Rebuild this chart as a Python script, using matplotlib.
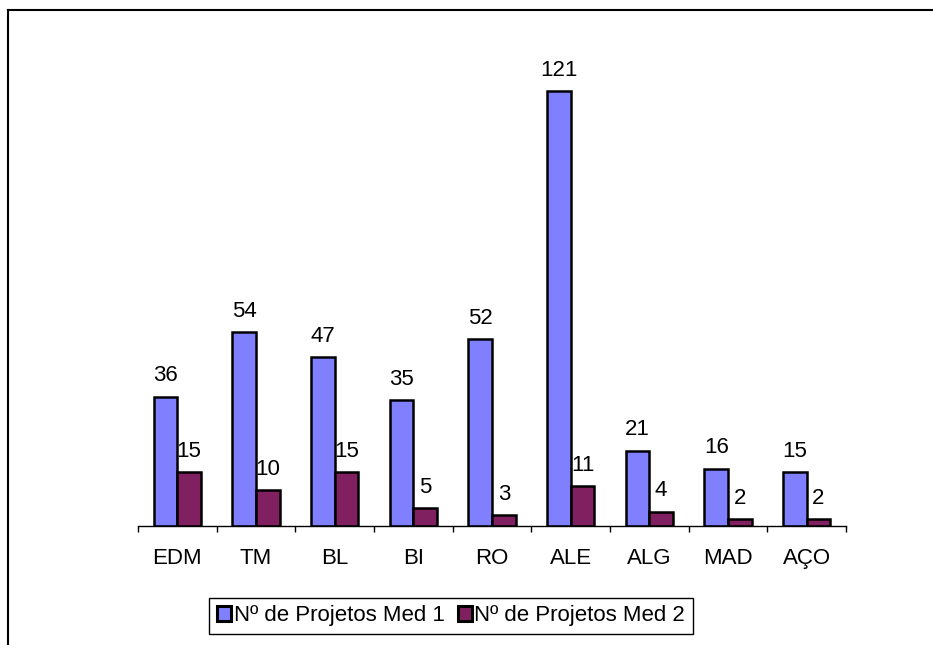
"""
Bar chart of project counts per sector, Med 1 vs Med 2.
"""

import matplotlib.pyplot as plt
import numpy as np
from matplotlib.lines import Line2D

plt.rcParams["font.family"] = ["Liberation Sans", "DejaVu Sans"]

CATEGORIES = ["EDM", "TM", "BL", "BI", "RO", "ALE", "ALG", "MAD", "AÇO"]
MED_1 = [36, 54, 47, 35, 52, 121, 21, 16, 15]
MED_2 = [15, 10, 15, 5, 3, 11, 4, 2, 2]
SERIES_LABELS = ["Nº de Projetos Med 1", "Nº de Projetos Med 2"]

BLUE = "#8080FF"
PLUM = "#802060"
FONT_SIZE = 16

fig = plt.figure(figsize=(9.33, 6.45), dpi=100)
ax = fig.add_axes([138 / 933, 1 - 526 / 645, (846 - 138) / 933, (526 - 23) / 645])

x = np.arange(len(CATEGORIES))
width = 0.3

bars_1 = ax.bar(x - width / 2, MED_1, width, color=BLUE, edgecolor="black",
                linewidth=1.8, label=SERIES_LABELS[0])
bars_2 = ax.bar(x + width / 2, MED_2, width, color=PLUM, edgecolor="black",
                linewidth=1.8, label=SERIES_LABELS[1])

for bars, values in ((bars_1, MED_1), (bars_2, MED_2)):
    for bar, value in zip(bars, values):
        ax.annotate(
            str(value),
            (bar.get_x() + bar.get_width() / 2, bar.get_height()),
            xytext=(0, 11),
            textcoords="offset points",
            ha="center",
            va="baseline",
            fontsize=FONT_SIZE,
        )

ax.set_xlim(-0.5, len(CATEGORIES) - 0.5)
ax.set_ylim(0, 140)

for side in ("top", "right", "left"):
    ax.spines[side].set_visible(False)
ax.spines["bottom"].set_linewidth(1.0)
ax.set_yticks([])

ax.set_xticks(x)
ax.set_xticklabels(CATEGORIES, fontsize=FONT_SIZE)
ax.tick_params(axis="x", which="major", length=0, pad=16)
ax.set_xticks(np.arange(len(CATEGORIES) + 1) - 0.5, minor=True)
ax.tick_params(axis="x", which="minor", length=4, width=1.0, direction="out")

legend = fig.legend(
    loc="center",
    bbox_to_anchor=(451 / 933, 1 - 616 / 645),
    ncol=2,
    fontsize=FONT_SIZE,
    fancybox=False,
    edgecolor="black",
    framealpha=1,
    handlelength=0.65,
    handleheight=0.65,
    handletextpad=0.1,
    columnspacing=0.6,
    borderpad=0.35,
    borderaxespad=0,
)
legend.get_frame().set_linewidth(1.0)
for handle in legend.legend_handles:
    handle.set_linewidth(2.2)

# outer chart frame (top and left edges)
fig.add_artist(Line2D([8 / 933, 1], [1 - 10 / 645] * 2, color="black", lw=1.5))
fig.add_artist(Line2D([8 / 933] * 2, [0, 1 - 10 / 645], color="black", lw=1.5))

fig.savefig("out.png", dpi=100)
